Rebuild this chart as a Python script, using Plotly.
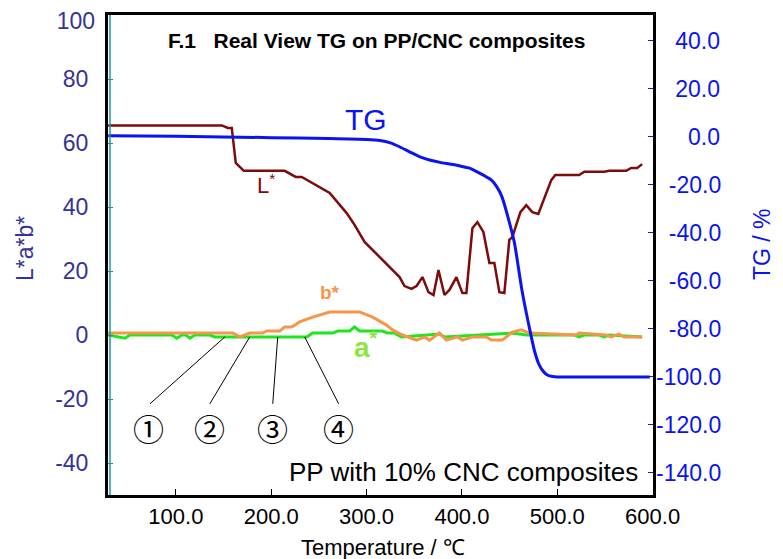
import plotly.graph_objects as go

# ---------------- data ----------------
tg_temp = [29, 100, 200, 260, 300, 314, 325, 335, 345, 356, 366, 377, 387, 398, 408, 418,
           425, 431, 437, 442, 448, 455, 463, 471, 476, 481, 486, 490, 495, 500, 550, 597]
tg_val = [0.5, 0.3, -0.3, -0.7, -1.1, -1.5, -2.5, -4.2, -6.2, -8.3, -9.6, -10.6, -11.3, -12.1,
          -13.0, -15.0, -16.5, -18.0, -21.0, -25.0, -33.0, -44.0, -64.0, -80.0, -89.0, -95.0,
          -98.0, -99.3, -99.8, -100.0, -100.0, -100.0]

L_temp = [29, 148.2, 154.5, 158.6, 162.8, 171.2, 214.1, 225.7, 232, 256, 261.3, 279.1, 287.4,
          297.9, 313.6, 326.2, 334.6, 339.8, 347.1, 352.4, 358.6, 364.9, 370.2, 375.4, 381.7,
          386.9, 394.2, 400.5, 404.7, 411, 416.2, 422.5, 428.8, 434, 439.3, 444.5, 449.7,
          452.9, 461.3, 467.5, 473.8, 480.1, 493.7, 497.9, 523, 528.3, 549.2, 554.5, 572.3,
          577.5, 583.8, 589]
L_val = [65.5, 65.5, 64.7, 64.7, 53.8, 51.3, 51.3, 49.4, 49.4, 45.3, 44.4, 38.1, 34.4,
         29.1, 24.4, 20.3, 18.1, 15.3, 14.4, 15.3, 18.1, 13.4, 12.5, 20.3, 12.5,
         14.1, 18.1, 13.1, 13.1, 33.4, 35.3, 32.2, 22.5, 22.5, 13.4, 13.1, 29.7,
         30.6, 38.4, 40.6, 38.4, 37.8, 48.4, 50.0, 50.0, 51.0, 51.0, 51.3, 51.3,
         52.2, 52.2, 53.4]

b_temp = [29, 159.7, 167, 177.5, 191.1, 195.3, 208.9, 214.1, 221.5, 229.8, 243.5, 250.8,
          261.3, 292.7, 300, 306.3, 320.9, 327.2, 337.7, 352.4, 360.7, 366, 376.4, 383.8,
          395.3, 400.5, 411, 425.7, 430.9, 442.4, 452.9, 462.3, 470.7, 519.9, 523, 551.3,
          556.5, 564.9, 570, 589]
b_val = [0.6, 0.6, -0.6, 0.6, 0.6, 1.25, 1.25, 2.5, 2.5, 4.1, 5.6, 6.25,
         7.2, 7.2, 6.25, 5.6, 3.1, 1.6, 0.0, -1.6, -0.6, -1.6, 0.6, -1.6,
         -0.6, -1.6, -0.6, -0.6, -1.6, -1.6, 0.9, 1.6, 0.6, 0.0, 0.6, 0.0,
         -0.6, 0.3, -0.6, -0.6]

a_temp = [29, 46.6, 51.8, 95.8, 101, 106.3, 110.5, 114.7, 119.9, 135.6, 140.8, 237.2, 243.5,
          264.4, 269.6, 282.2, 287.4, 292.7, 316.8, 322, 329.3, 336.6, 376.4, 381.7, 452.9,
          467.5, 517.8, 523, 528.3, 544, 549.2, 554.5, 589]
a_val = [0.0, -1.0, 0.0, 0.0, -1.0, 0.0, 0.0, -1.0, 0.0, 0.0, -0.6, -0.6, 0.6,
         0.6, 1.25, 1.25, 2.5, 1.25, 1.25, 0.6, 0.6, -0.6, 0.3, -0.6, 0.6,
         0.0, 0.0, -0.6, 0.0, 0.0, -0.6, 0.0, -0.6]

x_ticks = [100, 200, 300, 400, 500, 600]
x_ticklabels = ["100.0", "200.0", "300.0", "400.0", "500.0", "600.0"]
lab_ticks = [-40, -20, 0, 20, 40, 60, 80, 100]
lab_ticklabels = ["-40", "-20", "0", "20", "40", "60", "80", "100"]
tg_ticks = [40, 20, 0, -20, -40, -60, -80, -100, -120, -140]
tg_ticklabels = ["40.0", "20.0", "0.0", "-20.0", "-40.0", "-60.0", "-80.0", "-100.0", "-120.0", "-140.0"]

# marker annotations (circled numbers)
marks = ["①", "②", "③", "④"]
mark_temp = [71.7, 135.6, 201.6, 270.7]
mark_line_bottom = [72.8, 135.6, 201.6, 270.7]
mark_line_top = [151.3, 177.5, 206.8, 235.1]

# ---------------- layout geometry ----------------
OFF = 8  # page body margin
W_FIG, H_FIG = 783 - OFF, 559 - OFF
ML, MT = 108 - OFF, 15 - OFF
PW, PH = 545, 480
MR, MB = W_FIG - ML - PW, H_FIG - MT - PH


def px(xp):
    return (xp - OFF - ML) / PW


def py(yp):
    return (MT + PH - (yp - OFF)) / PH


FONT = "Liberation Sans, Arial, sans-serif"
fig = go.Figure()

fig.add_trace(go.Scatter(x=a_temp, y=a_val, mode="lines", line=dict(color="#1EE61E", width=3),
                         name="a*", showlegend=False))
fig.add_trace(go.Scatter(x=b_temp, y=b_val, mode="lines", line=dict(color="#F5964A", width=3),
                         name="b*", showlegend=False))
fig.add_trace(go.Scatter(x=L_temp, y=L_val, mode="lines", line=dict(color="#7F0A0A", width=2.5),
                         name="L*", showlegend=False))
fig.add_trace(go.Scatter(x=tg_temp, y=tg_val, mode="lines",
                         line=dict(color="#0A14F0", width=3, shape="spline", smoothing=0.6),
                         name="TG", yaxis="y2", showlegend=False))


# pad right-axis labels so they look right-aligned
def w(s):
    tbl = {"-": 0.333, ".": 0.278}
    return sum(tbl.get(c, 0.556) for c in s)


maxw = max(w(s) for s in tg_ticklabels)
tg_text = ["\u00a0" * int(round((maxw - w(s)) / 0.278)) + s for s in tg_ticklabels]

# top tick label (at the frame edge) is drawn on a twin axis, nudged down
lab_main_v = [v for v in lab_ticks if v < 100]
lab_main_t = [t for v, t in zip(lab_ticks, lab_ticklabels) if v < 100]
lab_top_v = [v for v in lab_ticks if v >= 100]
lab_top_t = [t for v, t in zip(lab_ticks, lab_ticklabels) if v >= 100]

# invisible carrier trace so the twin axis is rendered
fig.add_trace(go.Scatter(x=x_ticks[:1], y=lab_top_v, mode="markers", yaxis="y3",
                         marker=dict(opacity=0, size=1), hoverinfo="skip", showlegend=False))

ytick_common = dict(range=[-50, 100], automargin=False, tickfont=dict(size=23, color="#333399"),
                    ticklabelstandoff=12, ticklabeloverflow="allow",
                    showgrid=False, zeroline=False)

fig.update_layout(
    template="none",
    width=W_FIG, height=H_FIG,
    margin=dict(l=ML, r=MR, t=MT, b=MB, autoexpand=False),
    paper_bgcolor="white", plot_bgcolor="white",
    font=dict(family=FONT, color="black"),
    xaxis=dict(range=[28.8, 600.4], tickvals=x_ticks, ticktext=x_ticklabels, automargin=False,
               ticks="inside", ticklen=6, tickcolor="black", tickwidth=1,
               tickfont=dict(size=22, color="black"), ticklabeloverflow="allow",
               showgrid=False, zeroline=False,
               showline=True, linecolor="black", linewidth=3, mirror=True),
    yaxis=dict(tickvals=lab_main_v, ticktext=lab_main_t,
               ticks="inside", ticklen=5, tickcolor="#1A9A9A", tickwidth=1,
               showline=True, linecolor="black", linewidth=3, mirror=True, **ytick_common),
    yaxis3=dict(overlaying="y", side="left", tickvals=lab_top_v, ticktext=lab_top_t,
                ticks="", showline=False, ticklabelshift=6, **ytick_common),
    yaxis2=dict(range=[-149.2, 50.8], overlaying="y", side="right", automargin=False,
                tickvals=tg_ticks, ticktext=tg_text,
                ticks="inside", ticklen=5, tickcolor="#0A14F0", tickwidth=1,
                tickfont=dict(size=23, color="#0A14F0"), ticklabelstandoff=2,
                ticklabeloverflow="allow",
                showgrid=False, zeroline=False, showline=False),
)

# teal inner line on left border
fig.add_shape(type="line", xref="paper", yref="paper", x0=px(110), x1=px(110), y0=0, y1=1,
              line=dict(color="#1A9A9A", width=1.5))

# leader lines for circled markers
for xb, xt in zip(mark_line_bottom, mark_line_top):
    fig.add_shape(type="line", xref="x", yref="y", x0=xb, y0=-21.5, x1=xt, y1=-0.6,
                  line=dict(color="black", width=1))
for m, xm in zip(marks, mark_temp):
    fig.add_annotation(x=xm, y=-28.8, xref="x", yref="y", text=m, showarrow=False,
                       font=dict(family="Noto Sans CJK JP", size=31, color="black"))

ann = [
    dict(x=376, y=40, text="<b>F.1\u00a0\u00a0\u00a0Real View TG on PP/CNC composites</b>", size=21, color="black"),
    dict(x=366, y=119, text="TG", size=30, color="#0A14F0"),
    dict(x=266, y=184, text="L<sup>*</sup>", size=22, color="#7F0A0A"),
    dict(x=330, y=292, text="<b>b*</b>", size=19, color="#F5964A"),
    dict(x=366, y=345, text="<b>a<sup>*</sup></b>", size=28, color="#8CE63C"),
    dict(x=383, y=547, text="Temperature / ℃", size=22, color="black"),
]
for a in ann:
    fig.add_annotation(x=px(a["x"]), y=py(a["y"]), xref="paper", yref="paper",
                       text=a["text"], showarrow=False, xanchor="center", yanchor="middle",
                       font=dict(size=a["size"], color=a["color"], family=FONT))

fig.add_annotation(x=px(640), y=py(472), xref="paper", yref="paper",
                   text="PP with 10% CNC composites", showarrow=False,
                   xanchor="right", yanchor="middle", font=dict(size=26, color="black", family=FONT))
fig.add_annotation(x=px(25), y=py(249), xref="paper", yref="paper", text="L*a*b*",
                   textangle=-90, showarrow=False, xanchor="center", yanchor="middle",
                   font=dict(size=23, color="#333399", family=FONT))
fig.add_annotation(x=px(762), y=py(244), xref="paper", yref="paper", text="TG / %",
                   textangle=-90, showarrow=False, xanchor="center", yanchor="middle",
                   font=dict(size=23, color="#0A14F0", family=FONT))

fig.write_html("out.html")
